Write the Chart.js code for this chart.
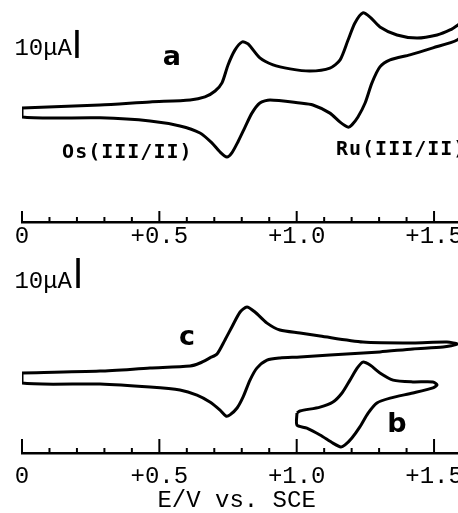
<!DOCTYPE html>
<html>
<head>
<meta charset="utf-8">
<script src="https://cdn.jsdelivr.net/npm/chart.js@4.4.1/dist/chart.umd.min.js"></script>
<style>
  html, body { margin: 0; padding: 0; background: #fff; overflow: hidden; }
  #wrap { position: relative; width: 458px; height: 513px; overflow: hidden; }
  #top { position: absolute; left: 0; top: 0; }
  #bottom { position: absolute; left: 0; top: 250px; }
</style>
</head>
<body>
<div id="wrap">
  <canvas id="top" width="480" height="250"></canvas>
  <canvas id="bottom" width="480" height="263"></canvas>
</div>
<script>
// potentials in V vs. SCE, currents in uA
// curve a: Os(III/II) + Ru(III/II) couples, full loop
const aE = [0, 0.284, 0.466, 0.612, 0.666, 0.703, 0.728, 0.750, 0.775, 0.801, 0.823, 0.866, 0.914, 0.976, 1.048,
  1.121, 1.158, 1.187, 1.212, 1.241, 1.267, 1.303, 1.365, 1.438, 1.511, 1.558, 1.587, 1.631, 1.660,
  1.645, 1.631, 1.584, 1.496, 1.412, 1.340, 1.303, 1.274, 1.249, 1.223, 1.201, 1.187, 1.158, 1.121, 1.059, 1.012,
  0.903, 0.866, 0.837, 0.812, 0.786, 0.764, 0.746, 0.721, 0.692, 0.648, 0.575, 0.466, 0.284, 0, 0];
const aI = [1.4, 2.5, 3.6, 4.3, 5.4, 7.5, 10.4, 16.8, 22.1, 25.0, 24.3, 19.3, 16.8, 15.4, 14.6,
  15.7, 18.6, 25.7, 31.8, 35.4, 33.9, 30.4, 27.5, 26.4, 27.5, 29.3, 31.1, 34.3, 36.4,
  32.6, 30.0, 25.7, 22.9, 20.4, 18.6, 16.1, 10.4, 3.2, -1.8, -4.6, -5.4, -3.6, -0.4, 2.5, 3.2,
  4.3, 3.2, -0.4, -5.4, -10.7, -14.6, -16.1, -14.3, -11.1, -7.5, -5.0, -3.2, -2.1, -1.8, 1.4];

// curve c: Os couple only
const cE = [0, 0.284, 0.466, 0.612, 0.648, 0.684, 0.710, 0.739, 0.764, 0.794, 0.819, 0.848, 0.892, 0.939, 1.012,
  1.085, 1.241, 1.423, 1.547, 1.584, 1.533, 1.423, 1.303, 1.121, 1.012, 0.939, 0.892, 0.855, 0.830, 0.805,
  0.783, 0.757, 0.743, 0.721, 0.684, 0.637, 0.575, 0.466, 0.284, 0, 0];
const cI = [1.7, 2.3, 3.3, 4.0, 5.0, 6.7, 8.0, 12.7, 17.0, 22.0, 23.7, 22.0, 18.3, 16.0, 15.0,
  14.0, 12.0, 11.7, 12.0, 11.3, 10.3, 9.7, 8.7, 7.7, 7.0, 6.7, 6.0, 3.3, -0.7, -6.3,
  -10.0, -12.3, -12.7, -10.7, -8.0, -5.7, -4.0, -3.0, -2.0, -1.7, 1.7];

// curve b: Ru couple only
const bE = [1.001, 1.012, 1.085, 1.132, 1.165, 1.194, 1.220, 1.241, 1.267, 1.303, 1.351, 1.423, 1.496, 1.511,
  1.496, 1.423, 1.340, 1.292, 1.260, 1.230, 1.201, 1.176, 1.161, 1.132, 1.085, 1.037, 1.001, 1.001];
const bI = [-11.7, -11.0, -9.7, -8.0, -5.0, -0.7, 3.3, 5.3, 4.3, 1.7, -0.7, -1.3, -1.3, -2.3,
  -3.3, -5.0, -6.7, -8.3, -11.7, -16.3, -20.0, -22.3, -23.0, -21.7, -19.0, -16.7, -15.7, -11.7];

// 10 uA scale bars
const barTopE = [0.2, 0.2];
const barTopI = [19.3, 29.3];
const barBotE = [0.204, 0.204];
const barBotI = [30, 40];

const tickValues = [0, 0.5, 1.0, 1.5];
const tickLabels = ['0', '+0.5', '+1.0', '+1.5'];

const mono = '"Liberation Mono", "Courier New", monospace';
const xMax = 1.6673;

function pts(xs, ys) {
  return xs.map((x, i) => ({ x: x, y: ys[i] }));
}

function curve(xs, ys) {
  return {
    data: pts(xs, ys),
    showLine: true,
    borderColor: '#000',
    borderWidth: 3,
    pointRadius: 0,
    tension: 0.25,
    fill: false
  };
}

function bar(xs, ys) {
  return {
    data: pts(xs, ys),
    showLine: true,
    borderColor: '#000',
    borderWidth: 3.5,
    pointRadius: 0,
    tension: 0
  };
}

// inward tick marks on the E axis + text labels placed in data coordinates
function decorations(majorLen, minorLen, notes) {
  return {
    id: 'decorations',
    afterDraw(chart) {
      const sx = chart.scales.x, sy = chart.scales.y, ctx = chart.ctx;
      ctx.save();
      ctx.strokeStyle = '#000';
      ctx.lineWidth = 2;
      sx.ticks.forEach(t => {
        const v = Math.round(t.value * 10);
        const px = sx.getPixelForValue(t.value);
        ctx.beginPath();
        ctx.moveTo(px, sx.top);
        ctx.lineTo(px, sx.top - (v % 5 === 0 ? majorLen : minorLen));
        ctx.stroke();
      });
      ctx.fillStyle = '#000';
      ctx.textBaseline = 'alphabetic';
      notes.forEach(n => {
        ctx.font = n.font;
        ctx.textAlign = n.align;
        ctx.letterSpacing = n.spacing || '0px';
        ctx.fillText(n.text, sx.getPixelForValue(n.x), sy.getPixelForValue(n.y));
      });
      ctx.restore();
    }
  };
}

function makeChart(id, datasets, yMin, yMax, axisH, padTop, title, deco) {
  return new Chart(document.getElementById(id), {
    type: 'scatter',
    data: { datasets: datasets },
    options: {
      responsive: false,
      animation: false,
      layout: { padding: { left: 22, right: 0, top: 0, bottom: 0 } },
      plugins: { legend: { display: false }, tooltip: { enabled: false } },
      scales: {
        x: {
          type: 'linear',
          min: 0,
          max: xMax,
          afterFit: s => { s.height = axisH; },
          grid: { display: false, drawTicks: false },
          border: { display: true, color: '#000', width: 2.5 },
          ticks: {
            stepSize: 0.1,
            includeBounds: false,
            autoSkip: false,
            maxRotation: 0,
            padding: padTop,
            color: '#000',
            font: { family: mono, size: 24 },
            callback: v => {
              const k = tickValues.findIndex(t => Math.abs(t - v) < 1e-6);
              return k >= 0 ? tickLabels[k] : '';
            }
          },
          title: title
        },
        y: { display: false, min: yMin, max: yMax }
      }
    },
    plugins: [deco]
  });
}

const bold = 'bold 20px "DejaVu Sans Mono", monospace';
const letter = 'bold 27px "DejaVu Sans", sans-serif';
const small = '24px ' + mono;

makeChart('top', [curve(aE, aI), bar(barTopE, barTopI)], -39.29, 40, 28, 0,
  { display: false },
  decorations(11, 5, [
    { text: '10\u03bcA', x: 0.182, y: 20.4, font: small, align: 'right' },
    { text: 'a', x: 0.546, y: 16.8, font: letter, align: 'center' },
    { text: 'Os(III/II)', x: 0.146, y: -16.4, font: bold, align: 'left', spacing: '1px' },
    { text: 'Ru(III/II)', x: 1.143, y: -15.4, font: bold, align: 'left', spacing: '1px' }
  ]));

makeChart('bottom', [curve(cE, cI), curve(bE, bI), bar(barBotE, barBotI)], -25, 42.67, 60, 9,
  {
    display: true,
    text: 'E/V vs. SCE  ',
    color: '#000',
    font: { family: mono, size: 24 },
    padding: { top: 0, bottom: -2 }
  },
  decorations(14, 5, [
    { text: '10\u03bcA', x: 0.182, y: 30, font: small, align: 'right' },
    { text: 'c', x: 0.601, y: 11, font: letter, align: 'center' },
    { text: 'b', x: 1.365, y: -18, font: letter, align: 'center' }
  ]));
</script>
</body>
</html>
